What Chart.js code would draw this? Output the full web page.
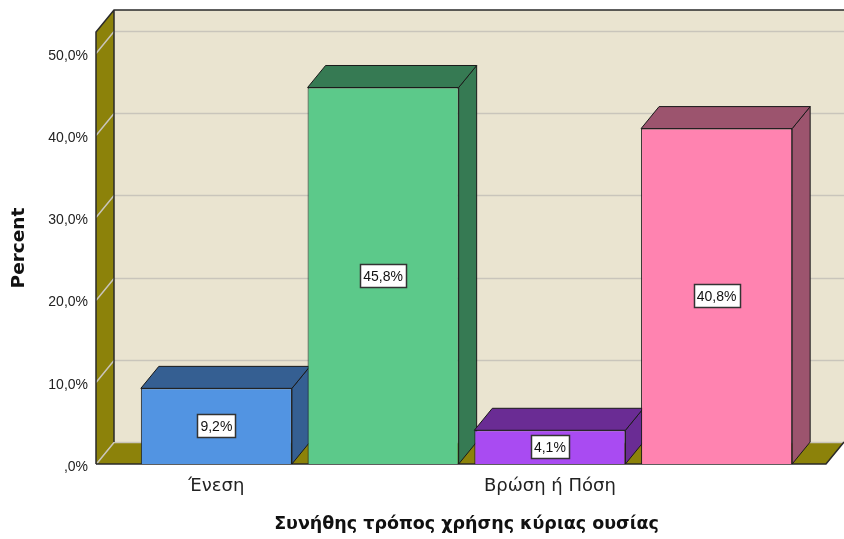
<!DOCTYPE html>
<html>
<head>
<meta charset="utf-8">
<script src="https://cdn.jsdelivr.net/npm/chart.js@4/dist/chart.umd.min.js"></script>
<style>
  body { margin: 0; background: #fff; }
</style>
</head>
<body>
<canvas id="chart" width="844" height="539"></canvas>
<script>
// categories (2nd and 4th labels are not shown in the source picture)
const categories = ['Ένεση', '', 'Βρώση ή Πόση', ''];
const percents = [9.2, 45.8, 4.1, 40.8];
const yTicks = [0, 10, 20, 30, 40, 50];

const frontColors = ['#5294e2', '#5cc98a', '#a94bf2', '#ff83b0'];
const darkColors = ['#355f92', '#367a53', '#6a2c94', '#9c546e'];

const DX = 18, DY = -22;
const fmt = v => v === 0 ? ',0%' : v.toFixed(1).replace('.', ',') + '%';

function poly(ctx, pts, fill, stroke) {
    ctx.beginPath();
    ctx.moveTo(pts[0][0], pts[0][1]);
    for (let i = 1; i < pts.length; i++) ctx.lineTo(pts[i][0], pts[i][1]);
    ctx.closePath();
    if (fill) { ctx.fillStyle = fill; ctx.fill(); }
    if (stroke) { ctx.strokeStyle = stroke; ctx.lineWidth = 1; ctx.stroke(); }
}

// walls, floor, grid and the depth faces of the bars
const box3d = {
    id: 'box3d',
    beforeDatasetsDraw(chart) {
        const ctx = chart.ctx;
        const a = chart.chartArea;
        const y = chart.scales.y;
        const L = a.left - 37, R = a.right + 26, T = a.top, B = a.bottom;
        ctx.save();
        // back wall
        poly(ctx, [[L + DX, T + DY], [R + DX, T + DY], [R + DX, B + DY], [L + DX, B + DY]], '#eae4d0');
        // left wall
        poly(ctx, [[L, T], [L + DX, T + DY], [L + DX, B + DY], [L, B]], '#8c820a');
        // floor
        poly(ctx, [[L, B], [L + DX, B + DY], [R + DX, B + DY], [R, B]], '#8c820a');
        // grid lines
        ctx.strokeStyle = '#c9c5bb';
        ctx.lineWidth = 1.5;
        yTicks.forEach(v => {
            const py = Math.round(y.getPixelForValue(v)) + 0.5;
            ctx.beginPath();
            ctx.moveTo(L, py);
            ctx.lineTo(L + DX, py + DY);
            ctx.lineTo(R + DX, py + DY);
            ctx.stroke();
        });
        // edges
        ctx.strokeStyle = '#2a2a2a';
        ctx.lineWidth = 1.5;
        ctx.beginPath();
        ctx.moveTo(L, B); ctx.lineTo(L, T); ctx.lineTo(L + DX, T + DY); ctx.lineTo(R + DX + 2, T + DY);
        ctx.moveTo(L + DX, T + DY); ctx.lineTo(L + DX, B + DY);
        ctx.moveTo(L, B); ctx.lineTo(R, B); ctx.lineTo(R + DX, B + DY);
        ctx.stroke();

        // bar top and side faces
        const meta = chart.getDatasetMeta(0);
        ctx.lineWidth = 1;
        meta.data.forEach((bar, i) => {
            const p = bar.getProps(['x', 'y', 'base', 'width'], true);
            const l = p.x - p.width / 2, r = p.x + p.width / 2;
            poly(ctx, [[r, p.y], [r + DX, p.y + DY], [r + DX, p.base + DY], [r, p.base]], darkColors[i], '#1a1a1a');
            poly(ctx, [[l, p.y], [l + DX, p.y + DY], [r + DX, p.y + DY], [r, p.y]], darkColors[i], '#1a1a1a');
        });
        ctx.restore();
    },
    afterDatasetsDraw(chart) {
        const ctx = chart.ctx;
        const meta = chart.getDatasetMeta(0);
        ctx.save();
        ctx.font = '14px "Liberation Sans", Arial, sans-serif';
        ctx.textAlign = 'center';
        ctx.textBaseline = 'middle';
        meta.data.forEach((bar, i) => {
            const p = bar.getProps(['x', 'y', 'base'], true);
            const cy = Math.round((p.y + p.base) / 2);
            const txt = fmt(percents[i]);
            const w = Math.round(ctx.measureText(txt).width) + 6, h = 23;
            const bx = Math.round(p.x - w / 2) + 0.5, by = cy - 11.5;
            ctx.fillStyle = '#fff';
            ctx.fillRect(bx, by, w, h);
            ctx.strokeStyle = '#333';
            ctx.lineWidth = 1.5;
            ctx.strokeRect(bx, by, w, h);
            ctx.fillStyle = '#111';
            ctx.fillText(txt, p.x, cy + 1);
        });
        ctx.restore();
    }
};

const chart = new Chart(document.getElementById('chart'), {
    type: 'bar',
    data: {
        labels: categories,
        datasets: [{
            data: percents,
            backgroundColor: frontColors,
            borderColor: '#1a1a1a',
            borderWidth: 1,
            barPercentage: 0.906,
            categoryPercentage: 1
        }]
    },
    options: {
        responsive: false,
        animation: false,
        devicePixelRatio: 1,
        layout: { padding: { top: 32, right: 44, left: 0, bottom: 0 } },
        plugins: { legend: { display: false }, tooltip: { enabled: false } },
        scales: {
            x: {
                grid: { display: false, drawTicks: false },
                border: { display: false },
                ticks: {
                    autoSkip: false,
                    maxRotation: 0,
                    padding: 12,
                    color: '#222',
                    font: { family: '"DejaVu Sans", sans-serif', size: 18 }
                },
                title: {
                    display: true,
                    text: 'Συνήθης τρόπος χρήσης κύριας ουσίας',
                    color: '#111',
                    font: { family: '"DejaVu Sans", sans-serif', size: 17.5, weight: 'bold' },
                    padding: { top: 0, bottom: 4 }
                },
                afterFit: s => { s.height = 75; }
            },
            y: {
                min: 0,
                max: 52.55,
                grid: { display: false, drawTicks: true, tickLength: 41 },
                border: { display: false },
                afterBuildTicks: s => { s.ticks = yTicks.map(v => ({ value: v })); },
                ticks: {
                    padding: 4,
                    labelOffset: 3,
                    color: '#222',
                    font: { family: '"Liberation Sans", Arial, sans-serif', size: 14 },
                    callback: v => fmt(v)
                },
                title: {
                    display: true,
                    text: 'Percent',
                    color: '#111',
                    font: { family: '"DejaVu Sans", sans-serif', size: 18.5, weight: 'bold' },
                    padding: { top: 8, bottom: 0 }
                },
                afterFit: s => { s.width = 133; }
            }
        }
    },
    plugins: [box3d]
});
</script>
</body>
</html>
